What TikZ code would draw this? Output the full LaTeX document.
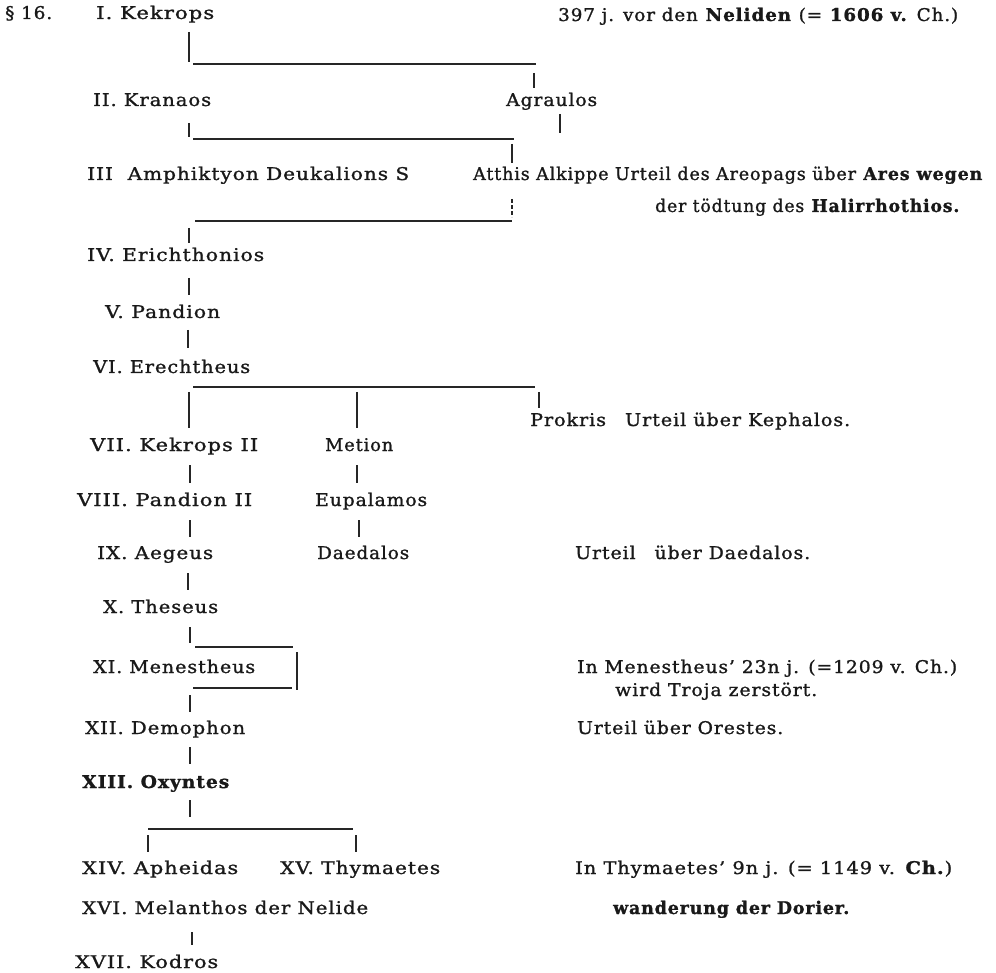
\documentclass[tikz,border=0pt]{standalone}
\usepackage{graphicx}
\usepackage{fontspec}
\setmainfont{DejaVu Serif}[LetterSpace=5, FakeBold=1.2]
\newcommand\fw[2]{\resizebox{#1pt}{\height}{#2}}
\begin{document}
\begin{tikzpicture}[x=1pt,y=-1pt,
  lbl/.style={anchor=base west, inner sep=0pt, font=\fontsize{17.5}{20}\selectfont, text=black!90},
  ln/.style={line width=1.1pt, draw=black!85},
  dln/.style={ln, dash pattern=on 4pt off 2pt}
]
\useasboundingbox (0,0) rectangle (996,973);

% ---- text nodes ----
\node[lbl] (para)  at (5,19)    {\fw{47}{\S\ 16.}};
\node[lbl] (kek)   at (96,19)   {\fw{118}{I. Kekrops}};
\node[lbl] (note1) at (558,21)  {\fw{400}{397 j. vor den \textbf{Neliden} (= \textbf{1606 v.} Ch.)}};
\node[lbl] (kran)  at (93,106)  {\fw{118}{II. Kranaos}};
\node[lbl] (agr)   at (506,106) {\fw{91}{Agraulos}};
\node[lbl] (amph)  at (87,180)  {\fw{322}{III\ \ Amphiktyon Deukalions S}};
\node[lbl] (atth)  at (473,180) {\fw{510}{Atthis Alkippe Urteil des Areopags über \textbf{Ares wegen}}};
\node[lbl] (atth2) at (655,212) {\fw{305}{der tödtung des \textbf{Halirrhothios.}}};
\node[lbl] (eri)   at (87,261)  {\fw{177}{IV. Erichthonios}};
\node[lbl] (pan)   at (105,318) {\fw{115}{V. Pandion}};
\node[lbl] (ere)   at (93,373)  {\fw{157}{VI. Erechtheus}};
\node[lbl] (kek2)  at (90,451)  {\fw{168}{VII. Kekrops II}};
\node[lbl] (met)   at (325,451) {\fw{68}{Metion}};
\node[lbl] (prok)  at (530,426) {\fw{320}{Prokris\quad Urteil über Kephalos.}};
\node[lbl] (pan2)  at (77,506)  {\fw{175}{VIII. Pandion II}};
\node[lbl] (eup)   at (315,506) {\fw{112}{Eupalamos}};
\node[lbl] (aeg)   at (97,559)  {\fw{116}{IX. Aegeus}};
\node[lbl] (dae)   at (317,559) {\fw{92}{Daedalos}};
\node[lbl] (udae)  at (575,559) {\fw{235}{Urteil\quad über Daedalos.}};
\node[lbl] (the)   at (103,613) {\fw{115}{X. Theseus}};
\node[lbl] (men)   at (93,673)  {\fw{162}{XI. Menestheus}};
\node[lbl] (inmen) at (577,673) {\fw{380}{In Menestheus' 23n j. (=1209 v. Ch.)}};
\node[lbl] (troja) at (615,696) {\fw{202}{wird Troja zerstört.}};
\node[lbl] (dem)   at (85,734)  {\fw{160}{XII. Demophon}};
\node[lbl] (ore)   at (577,734) {\fw{206}{Urteil über Orestes.}};
\node[lbl] (oxy)   at (82,788)  {\fw{148}{\textbf{XIII. Oxyntes}}};
\node[lbl] (aph)   at (82,874)  {\fw{156}{XIV. Apheidas}};
\node[lbl] (thy)   at (280,874) {\fw{160}{XV. Thymaetes}};
\node[lbl] (inthy) at (575,874) {\fw{377}{In Thymaetes' 9n j. (= 1149 v. \textbf{Ch.})}};
\node[lbl] (mel)   at (82,914)  {\fw{286}{XVI. Melanthos der Nelide}};
\node[lbl] (wan)   at (613,914) {\fw{237}{\textbf{wanderung der Dorier.}}};
\node[lbl] (kod)   at (75,968)  {\fw{143}{XVII. Kodros}};

% ---- junction coordinates ----
\coordinate (a1) at (189,32);  \coordinate (a2) at (189,62);
\coordinate (a3) at (193,64);  \coordinate (a4) at (536,64);
\coordinate (a5) at (534,73);  \coordinate (a6) at (534,88);
\coordinate (b1) at (189,123); \coordinate (b2) at (189,137);
\coordinate (b3) at (193,139); \coordinate (b4) at (514,139);
\coordinate (b5) at (512,144); \coordinate (b6) at (512,163);
\coordinate (g1) at (560,114); \coordinate (g2) at (560,133);
\coordinate (c1) at (512,199); \coordinate (c2) at (512,217);
\coordinate (c3) at (195,221); \coordinate (c4) at (512,221);
\coordinate (c5) at (189,228); \coordinate (c6) at (189,243);
\coordinate (d1) at (189,278); \coordinate (d2) at (189,295);
\coordinate (e1) at (188,330); \coordinate (e2) at (188,348);
\coordinate (f1) at (193,387); \coordinate (f2) at (535,387);
\coordinate (f3) at (189,392); \coordinate (f4) at (189,428);
\coordinate (f5) at (357,392); \coordinate (f6) at (357,428);
\coordinate (f7) at (539,392); \coordinate (f8) at (539,408);
\coordinate (h1) at (190,465); \coordinate (h2) at (190,483);
\coordinate (h3) at (357,465); \coordinate (h4) at (357,483);
\coordinate (i1) at (190,520); \coordinate (i2) at (190,537);
\coordinate (i3) at (359,520); \coordinate (i4) at (359,537);
\coordinate (j1) at (188,573); \coordinate (j2) at (188,590);
\coordinate (k1) at (190,627); \coordinate (k2) at (190,643);
\coordinate (k3) at (195,647); \coordinate (k4) at (293,647);
\coordinate (k5) at (297,652); \coordinate (k6) at (297,690);
\coordinate (k7) at (193,688); \coordinate (k8) at (292,688);
\coordinate (l1) at (190,695); \coordinate (l2) at (190,712);
\coordinate (m1) at (190,747); \coordinate (m2) at (190,764);
\coordinate (n1) at (190,800); \coordinate (n2) at (190,817);
\coordinate (n3) at (148,829); \coordinate (n4) at (353,829);
\coordinate (n5) at (148,835); \coordinate (n6) at (148,852);
\coordinate (n7) at (356,835); \coordinate (n8) at (356,852);
\coordinate (o1) at (192,932); \coordinate (o2) at (192,945);

% ---- connectors ----
\draw[ln] (a1) -- (a2);  \draw[ln] (a3) -- (a4);  \draw[ln] (a5) -- (a6);
\draw[ln] (b1) -- (b2);  \draw[ln] (b3) -- (b4);  \draw[ln] (b5) -- (b6);
\draw[ln] (g1) -- (g2);
\draw[dln] (c1) -- (c2); \draw[ln] (c3) -- (c4);  \draw[ln] (c5) -- (c6);
\draw[ln] (d1) -- (d2);
\draw[ln] (e1) -- (e2);
\draw[ln] (f1) -- (f2);  \draw[ln] (f3) -- (f4);  \draw[ln] (f5) -- (f6);  \draw[ln] (f7) -- (f8);
\draw[ln] (h1) -- (h2);  \draw[ln] (h3) -- (h4);
\draw[ln] (i1) -- (i2);  \draw[ln] (i3) -- (i4);
\draw[ln] (j1) -- (j2);
\draw[ln] (k1) -- (k2);  \draw[ln] (k3) -- (k4);  \draw[ln] (k5) -- (k6);  \draw[ln] (k7) -- (k8);
\draw[ln] (l1) -- (l2);
\draw[ln] (m1) -- (m2);
\draw[ln, line width=1.6pt] (n1) -- (n2);
\draw[ln] (n3) -- (n4);  \draw[ln] (n5) -- (n6);  \draw[ln] (n7) -- (n8);
\draw[ln] (o1) -- (o2);
\end{tikzpicture}
\end{document}
